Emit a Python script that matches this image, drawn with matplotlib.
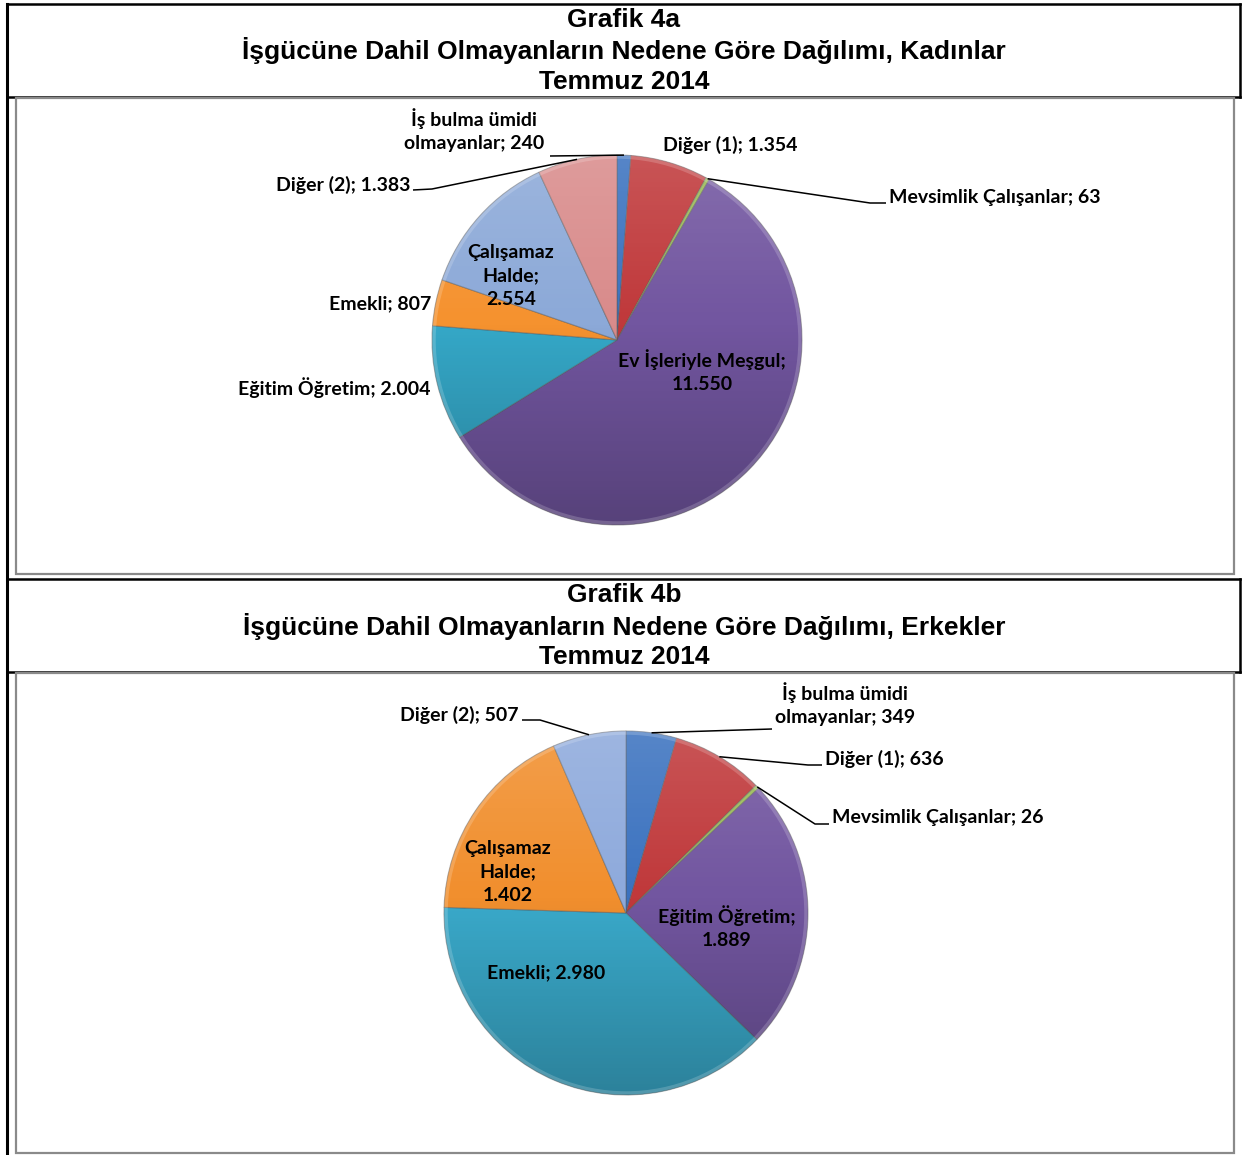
import numpy as np
import matplotlib.pyplot as plt
from matplotlib.patches import Rectangle, Circle

W, H = 1243, 1155

# Grafik 4a - Kadınlar
names_kadin = ["İş bulma ümidi olmayanlar", "Diğer (1)", "Mevsimlik Çalışanlar",
               "Ev İşleriyle Meşgul", "Eğitim Öğretim", "Emekli",
               "Çalışamaz Halde", "Diğer (2)"]
values_kadin = [240, 1354, 63, 11550, 2004, 807, 2554, 1383]
colors_kadin = ["#3B72BF", "#C0393B", "#9BBB59", "#7256A0", "#35A8C8",
                "#F5922F", "#8CA9D8", "#D98B8B"]

# Grafik 4b - Erkekler
names_erkek = ["İş bulma ümidi olmayanlar", "Diğer (1)", "Mevsimlik Çalışanlar",
               "Eğitim Öğretim", "Emekli", "Çalışamaz Halde", "Diğer (2)"]
values_erkek = [349, 636, 26, 1889, 2980, 1402, 507]
colors_erkek = ["#3B72BF", "#C0393B", "#9BBB59", "#7256A0", "#3AAACB",
                "#F18F2E", "#8EAADC"]

titles = [
    ["Grafik 4a", "İşgücüne Dahil Olmayanların Nedene Göre Dağılımı, Kadınlar", "Temmuz 2014"],
    ["Grafik 4b", "İşgücüne Dahil Olmayanların Nedene Göre Dağılımı, Erkekler", "Temmuz 2014"],
]

LABEL_FONT = ["Lato", "DejaVu Sans"]
TITLE_FONT = ["Liberation Sans", "DejaVu Sans"]


def fmt(v):
    return f"{v:,}".replace(",", ".")


def make_label(name, value, breaks):
    words = f"{name}; {fmt(value)}".split(" ")
    out = words[0]
    for i, w in enumerate(words[1:]):
        out += ("\n" if i in breaks else " ") + w
    return out


def Y(y):
    return H - y


# label layout in pixel coords of the picture (y downward)
layout_kadin = [
    dict(xy=(474, 130), ha="center", breaks=[2], leader=[(550, 156)]),
    dict(xy=(663, 145), ha="left", breaks=[], leader=None),
    dict(xy=(889, 197), ha="left", breaks=[], leader=[(870, 203), (886, 203)]),
    dict(xy=(702, 371), ha="center", breaks=[2], leader=None),
    dict(xy=(431, 388), ha="right", breaks=[], leader=None),
    dict(xy=(431, 304), ha="right", breaks=[], leader=None),
    dict(xy=(511, 276), ha="center", breaks=[0, 1], leader=None),
    dict(xy=(410, 185), ha="right", breaks=[], leader=[(432, 189), (413, 190)]),
]
layout_erkek = [
    dict(xy=(845, 704), ha="center", breaks=[2], leader=[(772, 729)]),
    dict(xy=(825, 759), ha="left", breaks=[], leader=[(808, 765), (822, 765)]),
    dict(xy=(832, 817), ha="left", breaks=[], leader=[(815, 824), (829, 824)]),
    dict(xy=(727, 927), ha="center", breaks=[1], leader=None),
    dict(xy=(546, 973), ha="center", breaks=[], leader=None),
    dict(xy=(508, 872), ha="center", breaks=[0, 1], leader=None),
    dict(xy=(519, 715), ha="right", breaks=[], leader=[(540, 720), (522, 720)]),
]


def draw_pie(ax, names, values, colors, center, radius, layout):
    cx, cy = center[0], Y(center[1])
    wedges, _ = ax.pie(values, colors=colors, startangle=90, counterclock=False,
                       center=(cx, cy), radius=radius,
                       wedgeprops=dict(edgecolor=(0.35, 0.35, 0.35, 0.45), linewidth=0.8))
    for w in wedges:
        w.set_zorder(2)

    # shading to mimic the bevelled Excel look
    n = 256
    t = np.linspace(0, 1, n)
    img = np.zeros((n, 1, 4))
    top = t < 0.45
    img[top, 0, :3] = 1.0
    img[top, 0, 3] = 0.14 * (0.45 - t[top]) / 0.45
    img[~top, 0, :3] = 0.0
    img[~top, 0, 3] = 0.24 * (t[~top] - 0.45) / 0.55
    im = ax.imshow(img, extent=[cx - radius, cx + radius, cy - radius, cy + radius],
                   origin="upper", aspect="auto", zorder=3, interpolation="bilinear")
    im.set_clip_path(Circle((cx, cy), radius, transform=ax.transData))
    ax.add_patch(Circle((cx, cy), radius - 2, fill=False, lw=2.5,
                        edgecolor=(1, 1, 1, 0.18), zorder=3))

    for w, name, val, lay in zip(wedges, names, values, layout):
        txt = make_label(name, val, lay["breaks"])
        x, y = lay["xy"]
        ax.text(x, Y(y), txt, ha=lay["ha"], va="center", fontsize=14,
                fontweight="bold", family=LABEL_FONT, linespacing=1.45, zorder=5)
        if lay["leader"]:
            mid = np.deg2rad((w.theta1 + w.theta2) / 2)
            ex = cx + radius * np.cos(mid)
            ey = cy + radius * np.sin(mid)
            xs = [ex] + [p[0] for p in lay["leader"]]
            ys = [ey] + [Y(p[1]) for p in lay["leader"]]
            ax.plot(xs, ys, color="black", lw=1.1, zorder=4, solid_capstyle="butt")


fig = plt.figure(figsize=(W / 100, H / 100), dpi=100)
ax = fig.add_axes([0, 0, 1, 1])

# frames
black = dict(color="black", lw=1.8, solid_capstyle="projecting", zorder=6)
for top, bottom in [(4, 97), (579, 672)]:
    ax.plot([7, 1240], [Y(top), Y(top)], **black)
    ax.plot([1240, 1240], [Y(top), Y(bottom)], **black)
    ax.plot([7, 1240], [Y(bottom), Y(bottom)], **black)
ax.plot([7.5, 7.5], [Y(4), Y(1155)], color="black", lw=2.2, zorder=6)
for top, bottom in [(98, 574), (673, 1153)]:
    ax.add_patch(Rectangle((16.5, Y(bottom)), 1234 - 16.5, bottom - top, fill=False,
                           edgecolor="#8a8a8a", lw=1.6, zorder=7))

# titles
for (top, lines) in zip([20, 595], titles):
    for i, line in enumerate(lines):
        ax.text(624, Y(top + 31 * i), line, ha="center", va="center", fontsize=19,
                fontweight="bold", family=TITLE_FONT, zorder=8)

draw_pie(ax, names_kadin, values_kadin, colors_kadin, (617, 340), 185, layout_kadin)
draw_pie(ax, names_erkek, values_erkek, colors_erkek, (626, 913), 182, layout_erkek)

ax.set_xlim(0, W)
ax.set_ylim(0, H)
ax.set_aspect("auto")
ax.axis("off")

fig.savefig("out.png", dpi=100)
